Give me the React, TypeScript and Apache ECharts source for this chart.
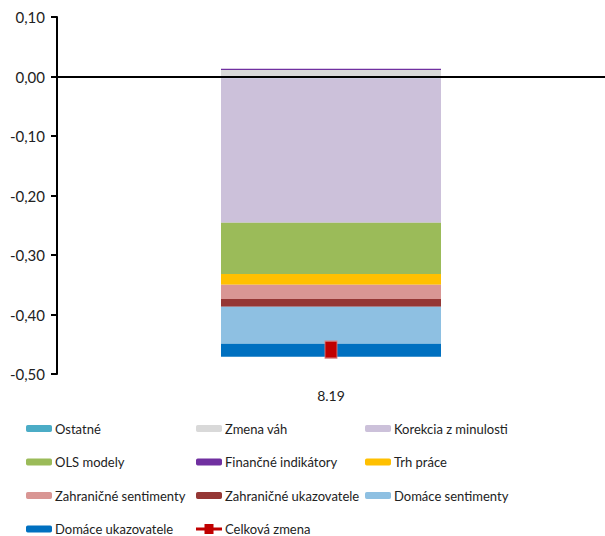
import React, { useEffect, useRef } from "react";
import * as echarts from "echarts";

const categories = ["8.19"];
const barSeriesNames = [
  "Ostatné",
  "Zmena váh",
  "Korekcia z minulosti",
  "OLS modely",
  "Finančné indikátory",
  "Trh práce",
  "Zahraničné sentimenty",
  "Zahraničné ukazovatele",
  "Domáce sentimenty",
  "Domáce ukazovatele",
];
const barValues = [
  [-0.003],
  [0.011],
  [-0.243],
  [-0.086],
  [0.002],
  [-0.018],
  [-0.024],
  [-0.013],
  [-0.062],
  [-0.022],
];
const barColors = [
  "#4BACC6",
  "#D9D9D9",
  "#CCC1DA",
  "#9BBB59",
  "#7030A0",
  "#FFC000",
  "#D99694",
  "#953735",
  "#8EC0E2",
  "#0070C0",
];
const totalName = "Celková zmena";
const totalValues = [-0.459];
const legendColumns = [
  ["Ostatné", "OLS modely", "Zahraničné sentimenty", "Domáce ukazovatele"],
  ["Zmena váh", "Finančné indikátory", "Zahraničné ukazovatele"],
  ["Korekcia z minulosti", "Trh práce", "Domáce sentimenty"],
];
const legendLefts = [26, 196, 365];

const FONT = "Lato";
const EXTRA = 20;
const LEG_TOP = 422;
const LEG_GAP = 20.5;
const LEG_ROW = 13 + LEG_GAP;

export default function App() {
  const ref = useRef<HTMLDivElement>(null);
  useEffect(() => {
    if (!ref.current) return;
    const chart = echarts.init(ref.current, undefined, { renderer: "svg" });
    const series: any[] = barSeriesNames.map((name, i) => ({
      name,
      type: "bar",
      stack: "total",
      barWidth: 220,
      data: barValues[i],
      itemStyle: { color: barColors[i] },
      ...(i === 0
        ? {
            markLine: {
              silent: true,
              symbol: "none",
              label: { show: false },
              lineStyle: { color: "#000", width: 2, type: "solid" },
              data: [{ yAxis: 0 }],
              z: 10,
            },
          }
        : {}),
    }));
    series.push({
      name: totalName,
      type: "line",
      data: totalValues,
      symbol: "rect",
      symbolSize: [12, 17],
      itemStyle: { color: "#C00000", borderColor: "#D98080", borderWidth: 1 },
      lineStyle: { color: "#C00000", width: 3 },
      z: 20,
    });
    const textStyle = { fontSize: 13, color: "#222", fontFamily: FONT, padding: [0, 0, 0, -2] };
    const legends: any[] = legendColumns.map((col, i) => ({
      data: col,
      orient: "vertical",
      left: legendLefts[i],
      top: LEG_TOP,
      itemWidth: 26,
      itemHeight: 7,
      itemGap: LEG_GAP,
      padding: 0,
      selectedMode: false,
      textStyle,
    }));
    legends.push({
      data: [
        {
          name: totalName,
          icon: "path://M0,3.5 L26,3.5 L26,6.5 L0,6.5 Z M8.5,0 L17.5,0 L17.5,10 L8.5,10 Z",
          itemStyle: { color: "#C00000", borderWidth: 0 },
        },
      ],
      orient: "vertical",
      left: 196,
      top: LEG_TOP + 3 * LEG_ROW,
      itemWidth: 26,
      itemHeight: 10,
      padding: 0,
      selectedMode: false,
      textStyle,
    });
    chart.setOption({
      animation: false,
      textStyle: { fontFamily: FONT },
      grid: { left: 57, right: 0, top: 17, bottom: 162 + EXTRA, containLabel: false },
      xAxis: {
        type: "category",
        data: categories,
        axisLine: { show: false, onZero: false },
        axisTick: { show: false },
        axisLabel: { fontSize: 14, color: "#222", margin: 14, fontFamily: FONT },
      },
      yAxis: {
        type: "value",
        min: -0.5,
        max: 0.1,
        interval: 0.1,
        axisLine: { show: true, lineStyle: { color: "#000", width: 2 } },
        axisTick: { show: true, length: 6, lineStyle: { color: "#000", width: 2 } },
        splitLine: { show: false },
        axisLabel: {
          fontSize: 15,
          color: "#222",
          margin: 12,
          fontFamily: FONT,
          formatter: (v: number) => v.toFixed(2).replace(".", ","),
        },
      },
      legend: legends,
      series,
    });
    return () => chart.dispose();
  }, []);
  return (
    <div
      ref={ref}
      style={{ position: "absolute", left: 0, top: 0, width: 605, height: 536 + EXTRA }}
    />
  );
}
